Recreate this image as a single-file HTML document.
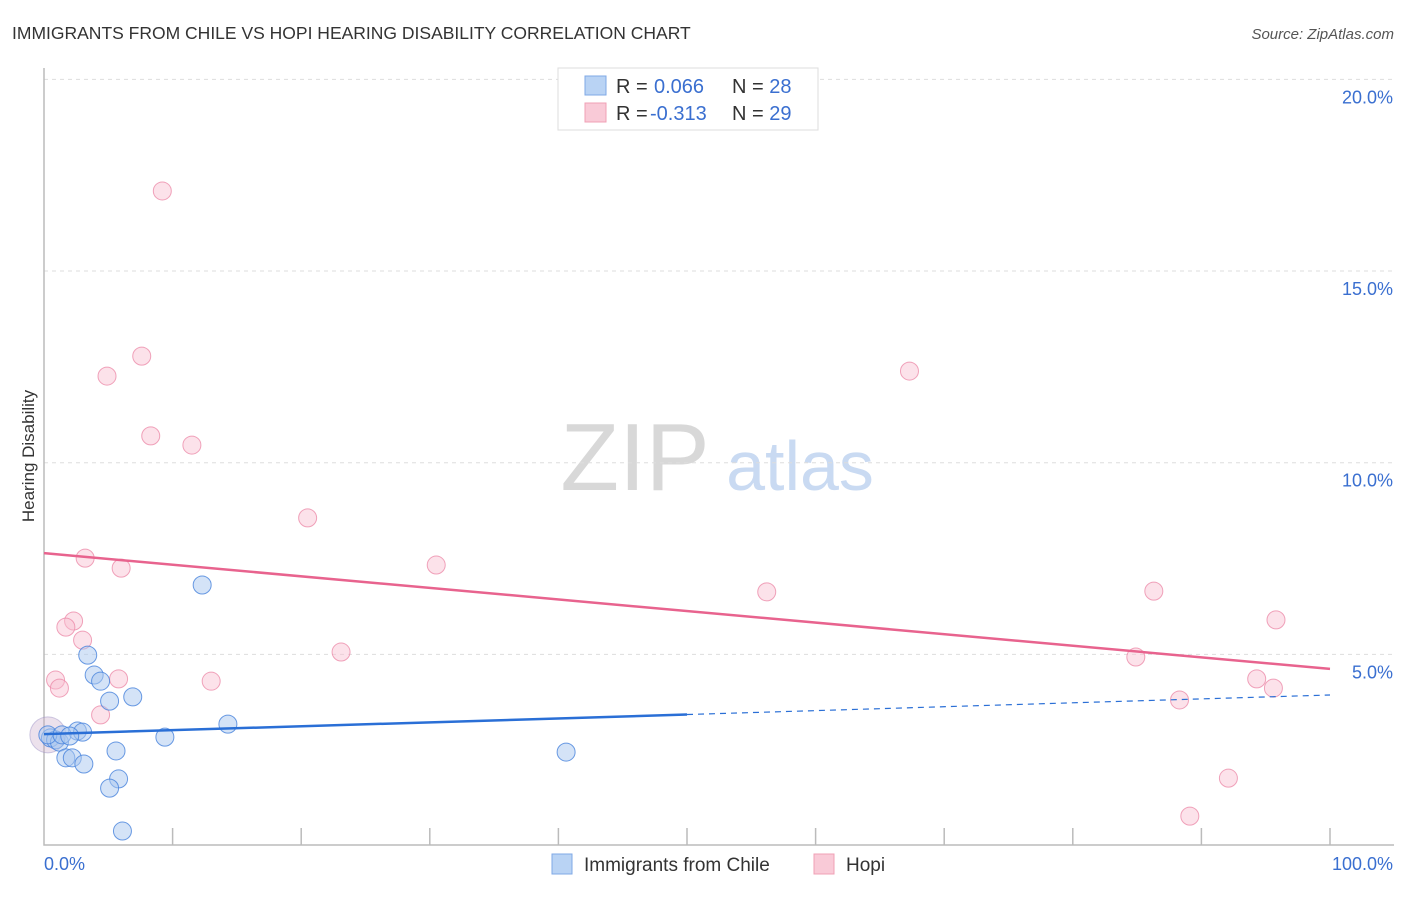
<!DOCTYPE html>
<html><head><meta charset="utf-8"><style>
body{margin:0;background:#fff;font-family:"Liberation Sans",sans-serif;}
svg text{font-family:"Liberation Sans",sans-serif;}
</style></head><body>
<svg id="chart" width="1406" height="892" xmlns="http://www.w3.org/2000/svg">
<text x="12" y="39" font-size="17.5" fill="#333">IMMIGRANTS FROM CHILE VS HOPI HEARING DISABILITY CORRELATION CHART</text>
<text x="1394" y="39" font-size="15" fill="#555" font-style="italic" text-anchor="end">Source: ZipAtlas.com</text>
<text x="635" y="490" font-size="96" fill="#d8d8d8" font-family="Liberation Serif" text-anchor="middle">ZIP</text>
<text x="800" y="490" font-size="70" fill="#c9daf2" text-anchor="middle">atlas</text>
<text x="34" y="456" font-size="17" fill="#333" text-anchor="middle" transform="rotate(-90 34 456)">Hearing Disability</text>
<g id="grid"></g><g id="axes"></g><g id="marks"></g>
<g>
<rect x="558" y="68" width="260" height="62" fill="#fff" stroke="#ddd"/>
<rect x="585" y="76" width="21" height="19" fill="#b9d3f4" stroke="#7fa8e6"/>
<rect x="585" y="103" width="21" height="19" fill="#f9cad7" stroke="#f0a0b6"/>
<text x="616" y="93" font-size="20" fill="#333">R = <tspan fill="#3a6fd0" x="654">0.066</tspan><tspan x="732">N = </tspan><tspan fill="#3a6fd0">28</tspan></text>
<text x="616" y="120" font-size="20" fill="#333">R = <tspan fill="#3a6fd0" x="650">-0.313</tspan><tspan x="732">N = </tspan><tspan fill="#3a6fd0">29</tspan></text>
</g>
<g>
<rect x="552" y="854" width="20" height="20" fill="#b9d3f4" stroke="#7fa8e6"/>
<text x="584" y="871" font-size="19" fill="#333">Immigrants from Chile</text>
<rect x="814" y="854" width="20" height="20" fill="#f9cad7" stroke="#f0a0b6"/>
<text x="846" y="871" font-size="19" fill="#333">Hopi</text>
</g>
</svg>
<script>
const chileX=[12.3,3.4,3.9,4.4,5.1,6.9,14.3,9.4,5.6,40.6,2.6,3.0,0.5,0.9,1.2,0.3,1.7,2.2,3.1,5.8,5.1,6.1,1.4,2.0];
const chileY=[6.81,4.98,4.46,4.30,3.78,3.89,3.18,2.84,2.48,2.45,3.00,2.97,2.82,2.77,2.71,2.90,2.30,2.30,2.14,1.75,1.51,0.39,2.90,2.87];
const hopiX=[9.2,7.6,4.9,8.3,11.5,20.5,3.2,6.0,30.5,2.3,1.7,3.0,23.1,0.9,1.2,5.8,13.0,4.4,67.3,56.2,86.3,95.8,84.9,88.3,94.3,95.6,92.1,89.1];
const hopiY=[17.09,12.78,12.26,10.70,10.46,8.56,7.51,7.25,7.33,5.87,5.71,5.37,5.06,4.33,4.12,4.36,4.30,3.42,12.39,6.63,6.65,5.90,4.93,3.81,4.36,4.12,1.77,0.78];
const yTicks=[5,10,15,20];
const yTickLabels=["5.0%","10.0%","15.0%","20.0%"];
const chileTrend=[2.92,3.94];
const hopiTrend=[7.64,4.62];
const NS="http://www.w3.org/2000/svg";
const xs=v=>44+v*12.86;
const ys=v=>846-v*38.33;
function mk(tag,attrs,parent){const e=document.createElementNS(NS,tag);for(const k in attrs)e.setAttribute(k,attrs[k]);document.getElementById(parent).appendChild(e);return e;}
yTicks.forEach((t,i)=>{
 const g=mk('line',{x1:44,x2:1394,y1:ys(t),y2:ys(t),stroke:'#ddd','stroke-dasharray':'4,4'},'grid');
 
 
 const tx=mk('text',{x:1393,y:ys(t)+24,'font-size':18,fill:'#3a6fd0','text-anchor':'end'},'axes');
 tx.textContent=yTickLabels[i];
 
 
});
const ax=mk('path',{d:'M44 68V845H1394',fill:'none',stroke:'#bbb','stroke-width':1.5},'axes');


for(let i=1;i<=10;i++){
 const tk=mk('line',{x1:xs(i*10),x2:xs(i*10),y1:828,y2:845,stroke:'#bbb','stroke-width':1.5},'axes');
 
 
}
const xl0=mk('text',{x:44,y:870,'font-size':18,fill:'#3a6fd0'},'axes');xl0.textContent='0.0%';


const xl1=mk('text',{x:1393,y:870,'font-size':18,fill:'#3a6fd0','text-anchor':'end'},'axes');xl1.textContent='100.0%';


const big=mk('circle',{cx:xs(0.3),cy:ys(2.9),r:18,fill:'rgba(200,170,200,0.35)',stroke:'rgba(160,150,200,0.5)'},'marks');


hopiX.forEach((x,i)=>{
 const c=mk('circle',{cx:xs(x),cy:ys(hopiY[i]),r:9,fill:'rgba(249,190,208,0.45)',stroke:'rgba(236,140,170,0.8)','stroke-width':1},'marks');
 
 
});
chileX.forEach((x,i)=>{
 const c=mk('circle',{cx:xs(x),cy:ys(chileY[i]),r:9,fill:'rgba(170,200,240,0.5)',stroke:'rgba(70,130,220,0.8)','stroke-width':1},'marks');
 
 
});
const hl=mk('line',{x1:xs(0),y1:ys(hopiTrend[0]),x2:xs(100),y2:ys(hopiTrend[1]),stroke:'#e8638e','stroke-width':2.5},'marks');


const mid=chileTrend[0]+(chileTrend[1]-chileTrend[0])*0.5;
const cl=mk('line',{x1:xs(0),y1:ys(chileTrend[0]),x2:xs(50),y2:ys(mid),stroke:'#2a6fd6','stroke-width':2.5},'marks');


const cd=mk('line',{x1:xs(50),y1:ys(mid),x2:xs(100),y2:ys(chileTrend[1]),stroke:'#2a6fd6','stroke-width':1.2,'stroke-dasharray':'6,5'},'marks');


</script>
</body></html>
